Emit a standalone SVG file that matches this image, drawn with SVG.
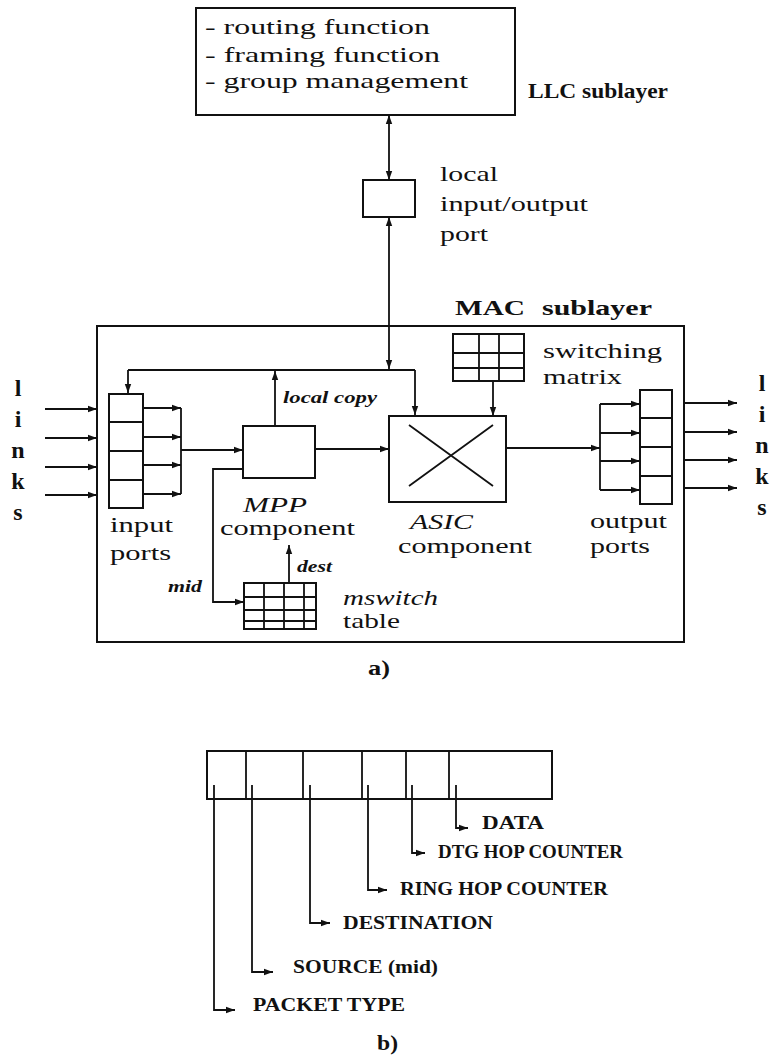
<svg xmlns="http://www.w3.org/2000/svg" width="773" height="1063" viewBox="0 0 773 1063">
<style>
.b{fill:none;stroke:#111;stroke-width:2}
.l{fill:none;stroke:#111;stroke-width:1.8}
.t{font-family:"Liberation Serif",serif;font-size:22px;fill:#111}
.bd{font-weight:bold}
.it{font-style:italic}
.s20{font-size:20px}
.sm{font-size:16px;font-weight:bold;font-style:italic}
.lk{font-size:24px;font-weight:bold}
.pk{font-family:"Liberation Serif",serif;font-size:18px;font-weight:bold;fill:#111}
.a{marker-end:url(#ah)}
</style>
<defs>
<marker id="ah" markerUnits="userSpaceOnUse" markerWidth="10" markerHeight="8" refX="9" refY="4" orient="auto-start-reverse">
<path d="M0,0.8 L9,4 L0,7.2 Z" fill="#111"/>
</marker>
</defs>
<rect width="773" height="1063" fill="#fff"/>

<g id="llc">
<rect class="b" x="196" y="8" width="319" height="107"/>
<text class="t" x="205" y="34" textLength="225" lengthAdjust="spacingAndGlyphs">- routing function</text>
<text class="t" x="205" y="62" textLength="235" lengthAdjust="spacingAndGlyphs">- framing function</text>
<text class="t" x="205" y="88" textLength="263" lengthAdjust="spacingAndGlyphs">- group management</text>
</g>
<g id="llc-label"><text class="t bd" x="528" y="98" textLength="140" lengthAdjust="spacingAndGlyphs">LLC sublayer</text></g>

<g id="local-port">
<rect class="b" x="363" y="180" width="52" height="37"/>
<text class="t" x="440" y="181" textLength="58" lengthAdjust="spacingAndGlyphs">local</text>
<text class="t" x="440" y="211" textLength="148" lengthAdjust="spacingAndGlyphs">input/output</text>
<text class="t" x="440" y="241" textLength="48" lengthAdjust="spacingAndGlyphs">port</text>
</g>

<g id="mac">
<rect class="b" x="97" y="326" width="587" height="316"/>
<text class="t bd" x="455" y="315" textLength="70" lengthAdjust="spacingAndGlyphs">MAC</text>
<text class="t bd" x="542" y="315" textLength="110" lengthAdjust="spacingAndGlyphs">sublayer</text>
</g>

<g id="switching-matrix">
<rect class="b" x="453" y="334" width="71" height="47"/>
<path class="l" d="M479,334V381M499,334V381M453,353H524M453,368H524"/>
<text class="t" x="543" y="358" textLength="119" lengthAdjust="spacingAndGlyphs">switching</text>
<text class="t" x="543" y="384" textLength="79" lengthAdjust="spacingAndGlyphs">matrix</text>
</g>

<g id="input-ports">
<rect class="b" x="109" y="394" width="34" height="114"/>
<path class="l" d="M109,422H143M109,451H143M109,480H143"/>
<text class="t" x="110" y="532" textLength="63" lengthAdjust="spacingAndGlyphs">input</text>
<text class="t" x="110" y="560" textLength="61" lengthAdjust="spacingAndGlyphs">ports</text>
</g>

<g id="mpp">
<rect class="b" x="243" y="426" width="72" height="52"/>
<text class="t it" x="243" y="512" textLength="64" lengthAdjust="spacingAndGlyphs">MPP</text>
<text class="t" x="220" y="535" textLength="135" lengthAdjust="spacingAndGlyphs">component</text>
</g>

<g id="asic">
<rect class="b" x="389" y="416" width="117" height="86"/>
<path class="l" d="M409,425L493,486M409,486L493,425"/>
<text class="t it s20" x="410" y="529" textLength="63" lengthAdjust="spacingAndGlyphs">ASIC</text>
<text class="t s20" x="398" y="553" textLength="134" lengthAdjust="spacingAndGlyphs">component</text>
</g>

<g id="output-ports">
<rect class="b" x="640" y="390" width="32" height="114"/>
<path class="l" d="M640,418H672M640,447H672M640,476H672"/>
<text class="t" x="590" y="528" textLength="77" lengthAdjust="spacingAndGlyphs">output</text>
<text class="t" x="590" y="553" textLength="60" lengthAdjust="spacingAndGlyphs">ports</text>
</g>

<g id="mswitch-table">
<rect class="b" x="244" y="583" width="72" height="46"/>
<path class="l" d="M264,583V629M284,583V629M304,583V629M244,597H316M244,610H316M244,621H316"/>
<text class="t it" x="343" y="605" textLength="95" lengthAdjust="spacingAndGlyphs">mswitch</text>
<text class="t" x="343" y="628" textLength="57" lengthAdjust="spacingAndGlyphs">table</text>
</g>

<g id="links-left" class="t lk">
<text x="18" y="396" text-anchor="middle">l</text>
<text x="18" y="427" text-anchor="middle">i</text>
<text x="18" y="458" text-anchor="middle">n</text>
<text x="18" y="489" text-anchor="middle">k</text>
<text x="18" y="520" text-anchor="middle">s</text>
</g>
<g id="links-right" class="t lk">
<text x="762" y="391" text-anchor="middle">l</text>
<text x="762" y="422" text-anchor="middle">i</text>
<text x="762" y="453" text-anchor="middle">n</text>
<text x="762" y="484" text-anchor="middle">k</text>
<text x="762" y="515" text-anchor="middle">s</text>
</g>

<g id="connectors">
<path class="l a" style="marker-start:url(#ah)" d="M389,115V180"/>
<path class="l a" style="marker-start:url(#ah)" d="M389,217V369"/>
<path class="l" d="M128,370H415"/>
<path class="l a" d="M128,370V393"/>
<path class="l a" d="M415,370V415"/>
<path class="l a" d="M275,426V371"/>
<path class="l a" d="M45,409H97"/>
<path class="l a" d="M45,438H97"/>
<path class="l a" d="M45,467H97"/>
<path class="l a" d="M45,495H97"/>
<path class="l a" d="M143,408H181"/>
<path class="l a" d="M143,437H181"/>
<path class="l a" d="M143,465H181"/>
<path class="l a" d="M143,494H181"/>
<path class="l" d="M181,408V494"/>
<path class="l a" d="M181,450H243"/>
<path class="l a" d="M315,449H389"/>
<path class="l a" d="M493,381V416"/>
<path class="l a" d="M506,448H600"/>
<path class="l" d="M600,404V490"/>
<path class="l a" d="M600,404H640"/>
<path class="l a" d="M600,433H640"/>
<path class="l a" d="M600,461H640"/>
<path class="l a" d="M600,490H640"/>
<path class="l a" d="M685,403H737"/>
<path class="l a" d="M685,432H737"/>
<path class="l a" d="M685,460H737"/>
<path class="l a" d="M685,488H737"/>
<path class="l a" d="M243,469H213V602H244"/>
<path class="l a" d="M289,583V545"/>
<path class="l a" d="M456,785V828H468"/>
<path class="l a" d="M412,785V853H425"/>
<path class="l a" d="M368,785V890H387"/>
<path class="l a" d="M310,785V923H330"/>
<path class="l a" d="M252,785V972H273"/>
<path class="l a" d="M214,785V1010H235"/>
</g>
<g id="connector-labels">
<text class="t sm" x="283" y="403" textLength="94" lengthAdjust="spacingAndGlyphs">local copy</text>
<text class="t sm" x="297" y="572" textLength="35" lengthAdjust="spacingAndGlyphs">dest</text>
<text class="t sm" x="168" y="592" textLength="34" lengthAdjust="spacingAndGlyphs">mid</text>
</g>

<g id="caption-a"><text class="t bd" x="368" y="675" textLength="22" lengthAdjust="spacingAndGlyphs">a)</text></g>

<g id="packet">
<rect class="b" x="207" y="751" width="345" height="48"/>
<path class="l" d="M246,751V799M303,751V799M362,751V799M406,751V799M449,751V799"/>
</g>
<g id="packet-labels">
<text class="pk" x="482" y="829" textLength="62" lengthAdjust="spacingAndGlyphs">DATA</text>
<text class="pk" x="438" y="858" textLength="185" lengthAdjust="spacingAndGlyphs">DTG HOP COUNTER</text>
<text class="pk" x="400" y="895" textLength="208" lengthAdjust="spacingAndGlyphs">RING HOP COUNTER</text>
<text class="pk" x="343" y="929" textLength="150" lengthAdjust="spacingAndGlyphs">DESTINATION</text>
<text class="pk" x="293" y="973" textLength="145" lengthAdjust="spacingAndGlyphs">SOURCE (mid)</text>
<text class="pk" x="253" y="1011" textLength="152" lengthAdjust="spacingAndGlyphs">PACKET TYPE</text>
</g>
<g id="caption-b"><text class="t bd" x="377" y="1050" textLength="21" lengthAdjust="spacingAndGlyphs">b)</text></g>
</svg>
